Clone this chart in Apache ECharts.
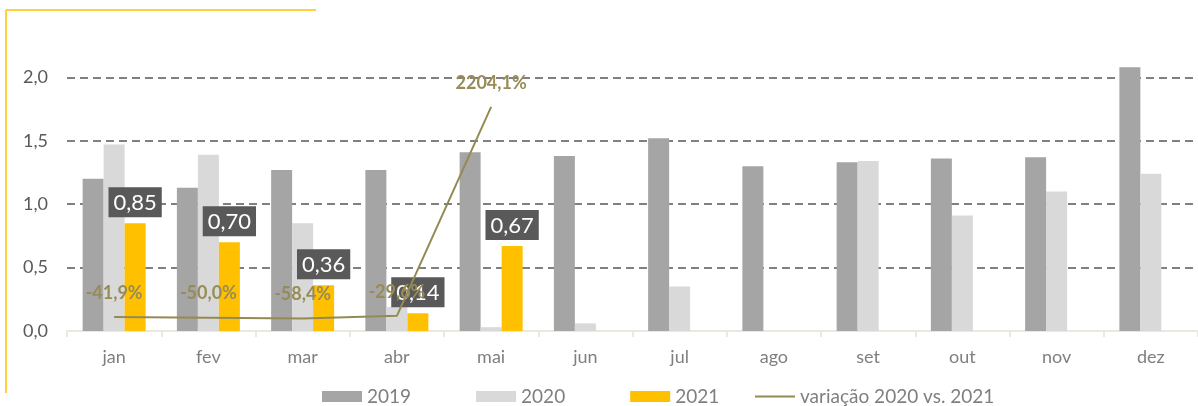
<!DOCTYPE html>
<html>
<head>
<meta charset="utf-8">
<script src="https://cdn.jsdelivr.net/npm/echarts@6/dist/echarts.min.js"></script>
<style>
  html, body { margin: 0; padding: 0; background: #fff; }
  #chart { width: 1198px; height: 406px; }
</style>
</head>
<body>
<div id="chart"></div>
<script>
// 月份
const months = ['jan', 'fev', 'mar', 'abr', 'mai', 'jun', 'jul', 'ago', 'set', 'out', 'nov', 'dez'];

// 各年数值
const v2019 = [1.20, 1.13, 1.27, 1.27, 1.41, 1.38, 1.52, 1.30, 1.33, 1.36, 1.37, 2.08];
const v2020 = [1.47, 1.39, 0.85, 0.19, 0.03, 0.06, 0.35, 0, 1.34, 0.91, 1.10, 1.24];
const v2021 = [0.85, 0.70, 0.36, 0.14, 0.67, null, null, null, null, null, null, null];

// 变化率 2020 vs 2021 (%)
const variacao = [-41.9, -50.0, -58.4, -29.6, 2204.1, null, null, null, null, null, null, null];

const yTicks = { min: 0, max: 2.5, interval: 0.5 };

const fmtComma = (v, d) => v.toFixed(d).replace('.', ',');

const FONT = 'Lato, "Open Sans", sans-serif';
const OLIVE = '#948a54';

const chart = echarts.init(document.getElementById('chart'), null, { renderer: 'canvas' });

const option = {
  animation: false,
  textStyle: { fontFamily: FONT },
  grid: { left: 67, top: 14, width: 1139, height: 317, containLabel: false },
  graphic: [
    { type: 'line', shape: { x1: 6, y1: 10, x2: 316, y2: 10 }, style: { stroke: '#ffc000', lineWidth: 1.5 } },
    { type: 'line', shape: { x1: 6, y1: 10, x2: 6, y2: 393 }, style: { stroke: '#ffc000', lineWidth: 1.5 } },
  ],
  legend: [
    {
      data: ['2019', '2020', '2021'],
      left: 322,
      top: 387,
      padding: 0,
      itemWidth: 40,
      itemHeight: 11,
      itemGap: 65,
      icon: 'rect',
      textStyle: { fontSize: 19, color: '#7f7f7f', fontFamily: FONT },
    },
    {
      data: ['variação 2020 vs. 2021'],
      left: 755,
      top: 387,
      padding: 0,
      itemWidth: 40,
      itemHeight: 2,
      icon: 'rect',
      textStyle: { fontSize: 19, color: '#7f7f7f', fontFamily: FONT },
    },
  ],
  xAxis: {
    type: 'category',
    data: months,
    axisLine: { lineStyle: { color: '#ebe8dc', width: 2 } },
    axisTick: { show: true, length: 6, lineStyle: { color: '#ebe8dc', width: 2 } },
    axisLabel: { fontSize: 18, color: '#7f7f7f', margin: 17, fontFamily: FONT },
  },
  yAxis: [
    {
      type: 'value',
      min: yTicks.min,
      max: yTicks.max,
      interval: yTicks.interval,
      axisLine: { show: false },
      axisTick: { show: false },
      axisLabel: {
        fontSize: 18,
        color: '#595959',
        margin: 19,
        showMaxLabel: false,
        fontFamily: FONT,
        formatter: (v) => fmtComma(v, 1),
      },
      splitLine: {
        show: true,
        showMinLine: false,
        showMaxLine: false,
        lineStyle: { color: '#808080', width: 2, type: [8, 5] },
      },
    },
    {
      type: 'value',
      show: false,
      min: -192,
      max: 3198,
      splitLine: { show: false },
    },
  ],
  series: [
    {
      name: '2019',
      type: 'bar',
      data: v2019,
      barWidth: 21,
      barGap: '0%',
      itemStyle: { color: '#a5a5a5' },
    },
    {
      name: '2020',
      type: 'bar',
      data: v2020,
      barWidth: 21,
      barGap: '0%',
      itemStyle: { color: '#d9d9d9' },
    },
    {
      name: '2021',
      type: 'bar',
      data: v2021,
      barWidth: 21,
      barGap: '0%',
      itemStyle: { color: '#ffc000' },
      label: {
        show: true,
        position: 'top',
        distance: 6,
        color: '#fff',
        fontSize: 22,
        fontFamily: FONT,
        backgroundColor: '#595959',
        padding: [5, 5, 3, 5],
        formatter: (p) => fmtComma(p.value, 2),
      },
    },
    {
      name: 'variação 2020 vs. 2021',
      type: 'line',
      yAxisIndex: 1,
      data: variacao,
      symbol: 'circle',
      symbolSize: 0.1,
      showSymbol: true,
      connectNulls: false,
      z: 5,
      lineStyle: { color: OLIVE, width: 2 },
      itemStyle: { color: OLIVE },
      label: {
        show: true,
        position: 'top',
        distance: 15,
        color: '#978c57',
        fontSize: 18,
        fontWeight: 'bold',
        fontFamily: FONT,
        formatter: (p) => fmtComma(p.value, 1) + '%',
      },
      labelLayout: { hideOverlap: false },
    },
  ],
};

chart.setOption(option);
</script>
</body>
</html>
